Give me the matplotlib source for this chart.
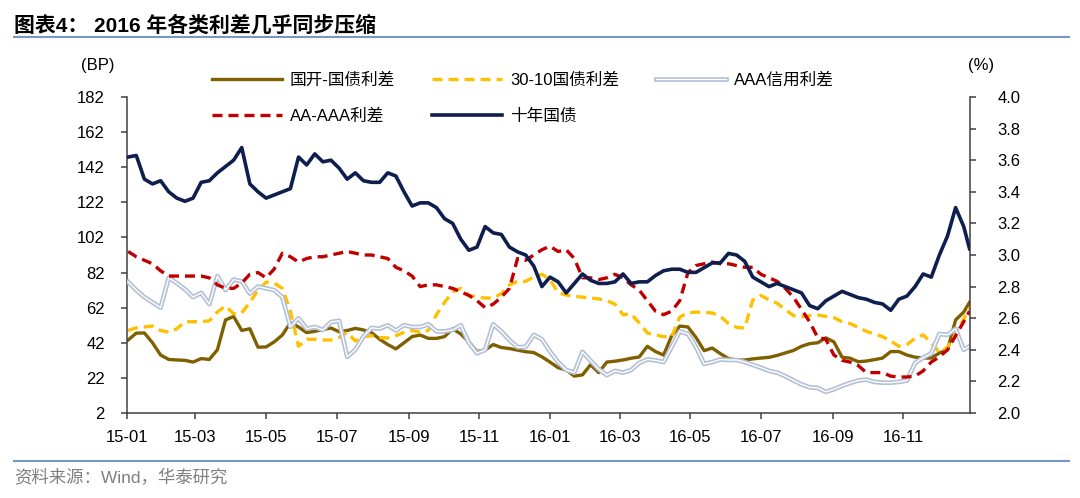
import matplotlib
matplotlib.use("Agg")
import matplotlib.pyplot as plt
import matplotlib.dates as mdates
import matplotlib.patheffects as pe
from matplotlib.lines import Line2D
import pandas as pd

plt.rcParams["font.family"] = ["Liberation Sans", "Noto Sans CJK SC"]

# weekly samples, plus the last trading day shown
dates = list(pd.date_range("2015-01-02", periods=104, freq="7D")) + [pd.Timestamp("2016-12-28")]

# 国开-国债利差 (BP)
cdb_spread = [
    43.6, 47.5, 47.6, 42, 35, 32.5, 32.2, 32, 31, 33, 32.5, 38, 55, 57, 49, 50,
    39.5, 39.6, 42.5, 46.4, 53.5, 51, 47.8, 48.5, 49.5, 50.4, 48.3, 49, 50.2, 49.3,
    47.8, 44, 41, 38.5, 42, 45.5, 46.4, 44.5, 44.5, 45.5, 50, 47, 42.5, 37, 37.9,
    41, 39.3, 38.7, 37.8, 36.9, 36.4, 34, 31, 27.8, 26.5, 23, 23.7, 29.5, 25, 31,
    31.5, 32.2, 33.2, 33.9, 40, 37, 35, 46, 51.5, 51, 45, 37.5, 39, 35.8, 33, 32.2,
    32.2, 32.8, 33.3, 33.7, 34.8, 36.2, 37.6, 40, 41.5, 42, 44.8, 42.5, 33.8, 33.2,
    31.2, 31.6, 32.4, 33.3, 37, 37, 35, 33.8, 33.3, 33.3, 36.2, 37.9, 55, 59.5, 65,
]

# 30-10国债利差 (BP)
term_spread = [
    49, 50.5, 51, 51.5, 49, 48, 50, 54, 54, 54, 54.5, 59.5, 63, 58.5, 59, 65, 72,
    76.5, 76, 73, 60, 40, 44, 44, 43.6, 43.6, 45, 48, 43, 45.5, 46, 45, 44.7, 46,
    48, 49, 48, 49, 58, 65, 71, 73, 69, 68, 67.5, 67.5, 70, 75, 77, 77, 79.5, 81,
    78, 70.5, 69.2, 68.5, 68, 67.5, 67, 66, 64, 58, 58.5, 53.3, 47.6, 46.5, 45.5,
    45.3, 56.7, 59, 59.5, 59.3, 59, 57, 53, 50.8, 50.4, 66.4, 69, 66.4, 64.5, 61,
    57.5, 56.7, 57.5, 57.8, 57, 56.3, 54, 53, 50.7, 48.5, 47, 45.5, 43, 40, 41,
    44.5, 46.5, 42, 36.5, 39.5, 47, 55.5, 62,
]

# AAA信用利差 (BP)
aaa_spread = [
    76.6, 72, 68, 65, 62, 79, 76, 72.5, 68, 70.4, 64, 80, 72, 78, 77, 70, 74, 73,
    72, 68, 51, 56, 50, 51, 49.3, 53.8, 54.5, 34, 38, 45.5, 50.5, 50, 52, 49, 52,
    51, 51, 52.5, 48.5, 48.5, 49.3, 52, 42, 36, 37.9, 52.5, 48.5, 43.5, 39.5, 39.6,
    46.5, 44, 37, 31, 26.5, 25, 36.8, 31.8, 27, 23.5, 26, 25, 26.5, 30.5, 32.5, 32,
    31, 39.6, 48.5, 47, 39.6, 30, 31, 32.5, 32.2, 32.2, 31, 29.4, 27.8, 26, 25, 23,
    20.6, 18.3, 16.6, 16.3, 14, 15.5, 17.5, 19.1, 20.5, 21, 19.7, 19.3, 19.3, 19.7,
    20.5, 30.5, 33.5, 36, 47, 46.5, 50, 38, 40,
]

# AA-AAA利差 (BP)
aa_aaa_spread = [
    94, 91, 89, 87, 83, 80, 80, 80, 80, 80, 79, 75, 73, 73, 76, 81, 82, 79, 84, 93,
    91, 88, 90, 91, 91, 92, 93, 94, 93, 92, 92, 91, 90, 85, 83, 80, 74, 75, 75, 74,
    73, 71, 69, 66, 62, 64, 68, 73, 90, 89, 92, 95, 97, 94, 95, 90, 79, 79, 78, 79,
    81, 79, 75, 72, 66, 60, 58, 60, 66, 82, 86, 87, 88, 87, 87, 86, 85, 85, 81, 79,
    77, 73, 68, 61, 54, 45, 44, 35, 32, 31, 29, 25, 25, 25, 23, 22.5, 22.5, 23, 26,
    31, 34, 38, 46, 54, 60,
]

# 十年国债 (%)
cgb_10y = [
    3.62, 3.63, 3.48, 3.45, 3.47, 3.40, 3.36, 3.34, 3.36, 3.46, 3.47, 3.52, 3.56,
    3.60, 3.68, 3.45, 3.40, 3.36, 3.38, 3.40, 3.42, 3.62, 3.57, 3.64, 3.59, 3.60,
    3.55, 3.48, 3.52, 3.47, 3.46, 3.46, 3.52, 3.50, 3.40, 3.31, 3.33, 3.33, 3.30,
    3.23, 3.20, 3.10, 3.03, 3.05, 3.18, 3.14, 3.13, 3.05, 3.02, 3.00, 2.93, 2.80,
    2.86, 2.83, 2.76, 2.82, 2.88, 2.84, 2.82, 2.82, 2.83, 2.88, 2.82, 2.83, 2.83,
    2.87, 2.90, 2.91, 2.91, 2.89, 2.89, 2.92, 2.95, 2.95, 3.01, 3.00, 2.96, 2.86,
    2.83, 2.80, 2.82, 2.80, 2.78, 2.76, 2.68, 2.66, 2.71, 2.74, 2.77, 2.75, 2.73,
    2.72, 2.70, 2.69, 2.65, 2.72, 2.74, 2.80, 2.88, 2.86, 3.00, 3.12, 3.30, 3.18,
    3.04,
]

left_ticks = list(range(2, 183, 20))
right_ticks = [2.0 + 0.2 * i for i in range(11)]

fig = plt.figure(figsize=(10.8, 4.98), dpi=100)
ax = fig.add_axes([0.1176, 0.1707, 0.7801, 0.6345])
ax2 = ax.twinx()

spine_color = "#404040"
lw = 2.4
ax.plot(dates, cdb_spread, color="#7F6000", lw=lw, label="国开-国债利差", zorder=2)
ax.plot(dates, term_spread, color="#FFC000", lw=lw, ls=(0, (3, 1.8)),
        label="30-10国债利差", zorder=3)
ax.plot(dates, aaa_spread, color="white", lw=1.0, label="AAA信用利差", zorder=4,
        path_effects=[pe.Stroke(linewidth=3.4, foreground="#B4C0D6"), pe.Normal()])
ax.plot(dates, aa_aaa_spread, color="#C00000", lw=lw, ls=(0, (3, 1.8)),
        label="AA-AAA利差", zorder=5)
ax2.plot(dates, cgb_10y, color="#0E1F4F", lw=2.6, label="十年国债", zorder=6)

ax.set_ylim(2, 182)
ax.set_yticks(left_ticks)
ax2.set_ylim(2.0, 4.0)
ax2.set_yticks(right_ticks)
ax2.yaxis.set_major_formatter(matplotlib.ticker.FormatStrFormatter("%.1f"))
ax.set_xlim(pd.Timestamp("2015-01-01"), pd.Timestamp("2016-12-28"))
ax.xaxis.set_major_locator(mdates.MonthLocator(bymonth=[1, 3, 5, 7, 9, 11]))
ax.xaxis.set_major_formatter(mdates.DateFormatter("%y-%m"))

for a in (ax, ax2):
    a.spines["top"].set_visible(False)
    for side in ("left", "right", "bottom"):
        a.spines[side].set_color(spine_color)
        a.spines[side].set_linewidth(1.1)
    a.tick_params(direction="out", length=4, width=1.1, color=spine_color,
                  labelsize=12, labelcolor="black")
ax.spines["right"].set_visible(False)
ax2.spines["left"].set_visible(False)
ax2.spines["bottom"].set_visible(False)
ax.tick_params(axis="y", pad=12)
ax2.tick_params(axis="y", pad=16)
ax.tick_params(axis="x", pad=8)

handles = ax.get_lines() + ax2.get_lines()
handles = [handles[0], handles[3], handles[1], handles[4], handles[2]]
fig.legend(handles=handles, labels=[h.get_label() for h in handles], ncol=3,
           loc="upper left", bbox_to_anchor=(0.196, 0.854), frameon=False,
           fontsize=12, handlelength=4.2, handletextpad=0.5, columnspacing=2.2,
           labelspacing=1.25, borderpad=0, borderaxespad=0)

fig.text(0.0907, 0.869, "(BP)", ha="center", va="center", fontsize=12)
fig.text(0.896, 0.869, "(%)", ha="left", va="center", fontsize=12)

fig.text(0.013, 0.950, "图表4： 2016 年各类利差几乎同步压缩", ha="left", va="center",
         fontsize=15, fontweight="bold")
fig.add_artist(Line2D([0.013, 0.99], [0.926, 0.926], transform=fig.transFigure,
                      color="#7A96C2", lw=1.5))
fig.add_artist(Line2D([0.013, 0.99], [0.074, 0.074], transform=fig.transFigure,
                      color="#7A96C2", lw=1.5))
fig.text(0.013, 0.040, "资料来源：Wind，华泰研究", ha="left", va="center",
         fontsize=12.5, color="#808080")

fig.savefig("out.png", dpi=100)
